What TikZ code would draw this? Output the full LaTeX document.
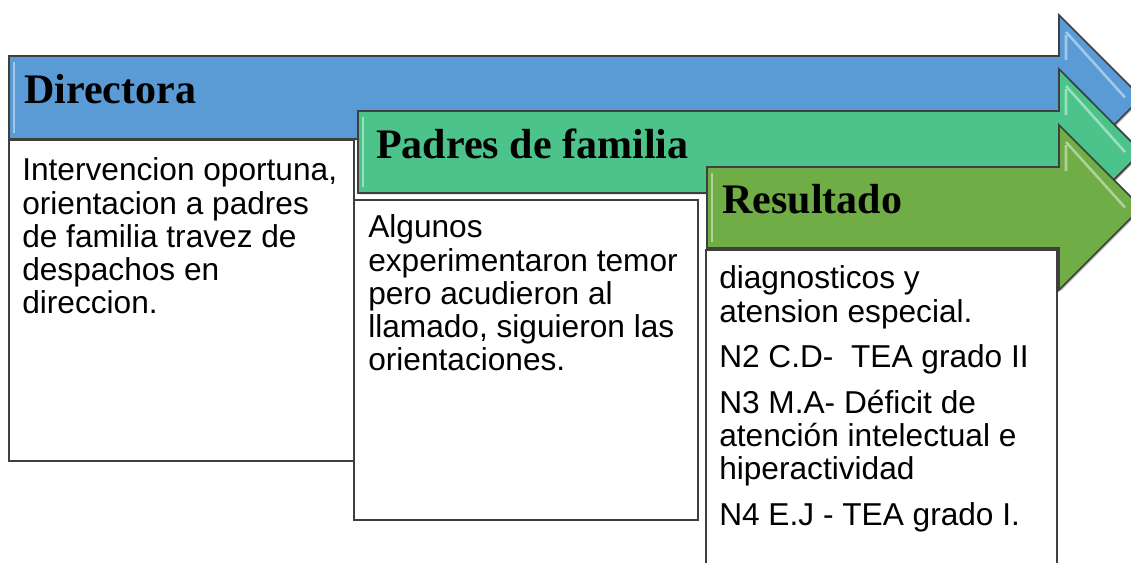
\documentclass[tikz,border=0pt]{standalone}
\usepackage{fontspec}
\setmainfont{Liberation Serif}
\setsansfont{Liberation Sans}
\usetikzlibrary{shadows}
\definecolor{dirblue}{HTML}{5B9BD5}
\definecolor{padgreen}{HTML}{4BC38A}
\definecolor{resgreen}{HTML}{70AD47}
\definecolor{edgegray}{HTML}{3F3F3F}
\begin{document}
\begin{tikzpicture}[x = 0.025cm,y = -0.025cm,
    flecha/.style = {draw = edgegray,line width = 1.2pt,line join = miter,
        drop shadow = {shadow xshift = 1pt,shadow yshift = -1pt,fill = black!60,opacity = .45}},
    brillo/.style = {draw = white,line width = 1.8pt,opacity = .45},
    caja/.style = {draw = edgegray,line width = 1.2pt,fill = white,
        drop shadow = {shadow xshift = 1pt,shadow yshift = -1pt,fill = black!60,opacity = .45}},
    titulo/.style = {anchor = base west,inner sep = 0pt,font = {\fontsize{29.9}{32}\selectfont\bfseries}},
    texto/.style = {anchor = north west,inner sep = 0pt,align = left,font = {\sffamily\fontsize{22.5}{23.6}\selectfont}}]
        \useasboundingbox (0,0) rectangle (1131,562);
        \clip (0,0) rectangle (1131,562);
        % arrow, then its box, for each stage
        \foreach \xl/\yt/\yb/\yc/\ht/\hb/\bl/\br/\bt/\bb/\col in
            {9/56/139/97.5/15/180/9/354/140/461/dirblue,
             358/111/193/152/69/235/354/698/200/520/padgreen,
             707/167/248/207.5/125/290/706/1057/250/600/resgreen}
        {
            \draw[flecha,fill = \col] (\xl,\yt) -- (1059,\yt) -- (1059,\ht) -- (1141.5,\yc) -- (1059,\hb) -- (1059,\yb) -- (\xl,\yb) -- cycle;
            \draw[brillo] (\xl+5,\yt+6) -- (\xl+5,\yb-6);
            \draw[brillo] (1066,\ht+20) -- (1066,\yt+4) (1066,\ht+17) -- (1125,\yc);
            \draw[caja] (\bl,\bt) rectangle (\br,\bb);
        }
        \node[titulo] (dir) at (24,103) {Directora};
        \node[titulo] (pad) at (376,158) {Padres de familia};
        \node[titulo] (res) at (722,213) {Resultado};

        % text tops = first baseline - strut height (23.2)
        \node[texto] (tdir) at (22,157.3) {\strut Intervencion oportuna,\\orientacion a padres\\de familia travez de\\despachos en\\direccion.};
        \node[texto] (tpad) at (368,214.3) {\strut Algunos\\experimentaron temor\\pero acudieron al\\llamado, siguieron las\\orientaciones.};
        \node[texto] (tres) at (719,265.3) {\strut diagnosticos y\\atension especial.\\[8.8pt]N2 C.D-\ \ TEA grado II\\[8.8pt]N3 M.A- Déficit de\\atención intelectual e\\hiperactividad\\[8.8pt]N4 E.J - TEA grado I.};
\end{tikzpicture}
\end{document}
